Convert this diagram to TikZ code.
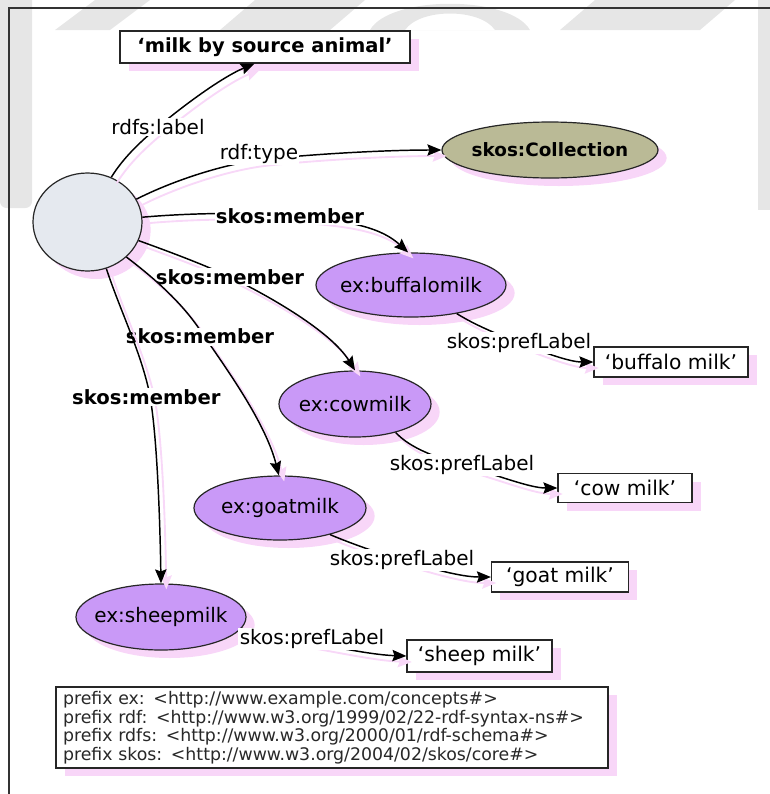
\documentclass[tikz,border=0pt]{standalone}
\usepackage{fontspec}
\setmainfont{DejaVu Sans}
\usetikzlibrary{shapes.geometric,arrows.meta,shadows}

\definecolor{shadowpink}{RGB}{248,214,248}
\definecolor{edgepink}{RGB}{248,216,248}
\definecolor{lav}{RGB}{201,153,247}
\definecolor{olivefill}{RGB}{186,186,150}
\definecolor{blankfill}{RGB}{229,233,239}
\definecolor{wmgray}{RGB}{230,230,230}
\definecolor{nstext}{RGB}{40,40,40}

% zero-width box so that ellipses keep the size given to them
\newcommand\ctr[1]{\makebox[0pt]{#1}}

\begin{document}
\begin{tikzpicture}[x=0.75pt,y=-0.75pt,
  border/.style={draw=black!85, line width=0.9pt},
  pshadow/.style={general shadow={fill=shadowpink, shadow xshift=6.5pt, shadow yshift=-6pt}},
  dim/.style 2 args={minimum width=#1*0.75pt, minimum height=#2*0.75pt},
  res/.style={ellipse, border, fill=lav, inner sep=0pt, pshadow, font=\fontsize{15}{17}\selectfont},
  lit/.style={rectangle, border, fill=white, inner sep=0pt, pshadow, font=\fontsize{15.2}{17}\selectfont},
  lbl/.style={fill=white, inner sep=1pt, font=\fontsize{15}{17}\selectfont},
  mem/.style={fill=white, inner sep=1pt, font=\bfseries\fontsize{14.7}{17}\selectfont},
  rel/.style={draw=black, line width=1.1pt, -{Stealth[length=10.5pt,width=8.5pt,inset=1.5pt]},
    preaction={draw=edgepink, line width=1.4pt, transform canvas={shift={(4pt,-4.5pt)}}}}
]
\useasboundingbox (0,0) rectangle (770,794);

% faint page watermark along the top and sides
\fill[wmgray, rounded corners=5pt] (0,-10) rectangle (32,208);
\fill[wmgray] (758,0) rectangle (770,210);
\fill[wmgray] (55,30) -- (110,30) -- (150,0) -- (95,0) -- cycle;
\fill[wmgray] (220,30) -- (330,30) -- (365,0) -- (255,0) -- cycle;
\fill[wmgray, even odd rule] (370,30) .. controls (390,-5) and (510,-5) .. (530,30) -- cycle
  (405,30) .. controls (420,8) and (480,8) .. (495,30) -- cycle;
\fill[wmgray] (560,30) -- (700,30) -- (735,0) -- (595,0) -- cycle;

% page frame
\draw[black!80, line width=0.9pt] (9,794) -- (9,8) -- (770,8);

% nodes
\node[lit, dim={290}{32}, font=\bfseries\fontsize{14.6}{17}\selectfont] (milk) at (265,47) {‘milk by source animal’};
\node[ellipse, border, fill=olivefill, inner sep=0pt, pshadow, dim={216}{56},
      font=\bfseries\fontsize{13.8}{17}\selectfont] (coll) at (550,150) {\ctr{skos:Collection}};
\node[ellipse, border, fill=blankfill, inner sep=0pt, pshadow, dim={109}{98}] (blank) at (87.5,222) {};

\node[res, dim={190}{64}] (buf) at (411,285) {\ctr{ex:buffalomilk}};
\node[res, dim={152}{66}] (cow) at (355,404) {\ctr{ex:cowmilk}};
\node[res, dim={172}{64}] (goat) at (280,508) {\ctr{ex:goatmilk}};
\node[res, dim={170}{66}] (sheep) at (161,617) {\ctr{ex:sheepmilk}};

\node[lit, dim={154}{30}] (bufbox) at (671,362) {‘buffalo milk’};
\node[lit, dim={134}{29}] (cowbox) at (625,488) {‘cow milk’};
\node[lit, dim={137}{30}] (goatbox) at (560,577) {‘goat milk’};
\node[lit, dim={145}{32}] (sheepbox) at (479.5,656) {‘sheep milk’};

\node[rectangle, border, fill=white, pshadow, dim={552}{81}, inner xsep=5.25pt, inner ysep=0pt,
      text width=403.5pt, align=left, text=nstext, font=\fontsize{13}{13.9}\selectfont] (ns) at (332,727.5)
  {prefix ex: <http://www.example.com/concepts\#>\\
   prefix rdf: <http://www.w3.org/1999/02/22-rdf-syntax-ns\#>\\
   prefix rdfs: <http://www.w3.org/2000/01/rdf-schema\#>\\
   prefix skos: <http://www.w3.org/2004/02/skos/core\#>};

% collection arcs
\draw[rel] (blank.62) .. controls (125,155) and (145,138) .. (158,127) node[lbl] {rdfs:label}
  .. controls (178,110) and (220,78) .. (milk.238);
\draw[rel] (blank.25) .. controls (170,182) and (220,165) .. (259,160) node[lbl, yshift=4.5pt] {rdf:type}
  .. controls (300,155) and (380,150) .. (coll.west);

% member arcs
\draw[rel] (blank.5) .. controls (190,213) and (250,212) .. (290,216) node[mem] {skos:member}
  .. controls (330,220) and (375,222) .. (buf.95);
\draw[rel] (blank.-20) .. controls (170,252) and (205,265) .. (230,277) node[mem] {skos:member}
  .. controls (265,294) and (330,330) .. (cow.90);
\draw[rel] (blank.-42) .. controls (150,275) and (180,300) .. (200,330) node[mem, yshift=-5pt] {skos:member}
  .. controls (220,360) and (265,420) .. (goat.92);
\draw[rel] (blank.-68) .. controls (120,310) and (140,350) .. (149,391) node[mem, xshift=-2pt, yshift=-4.5pt] {skos:member}
  .. controls (157,430) and (160,520) .. (sheep.north);

% preferred labels
\draw[rel] (buf.-32) .. controls (475,325) and (495,333) .. (519,343) node[lbl] {skos:prefLabel}
  .. controls (545,353) and (570,362) .. (bufbox.west);
\draw[rel] (cow.-35) .. controls (410,448) and (435,457) .. (462,465) node[lbl] {skos:prefLabel}
  .. controls (500,476) and (530,488) .. (cowbox.west);
\draw[rel] (goat.-28) .. controls (350,543) and (375,552) .. (402,560) node[lbl] {skos:prefLabel}
  .. controls (430,568) and (460,577) .. (goatbox.west);
\draw[rel] (sheep.-8) .. controls (265,634) and (290,639) .. (312,643) node[lbl, yshift=3pt] {skos:prefLabel}
  .. controls (345,649) and (375,655) .. (sheepbox.west);
\end{tikzpicture}
\end{document}
